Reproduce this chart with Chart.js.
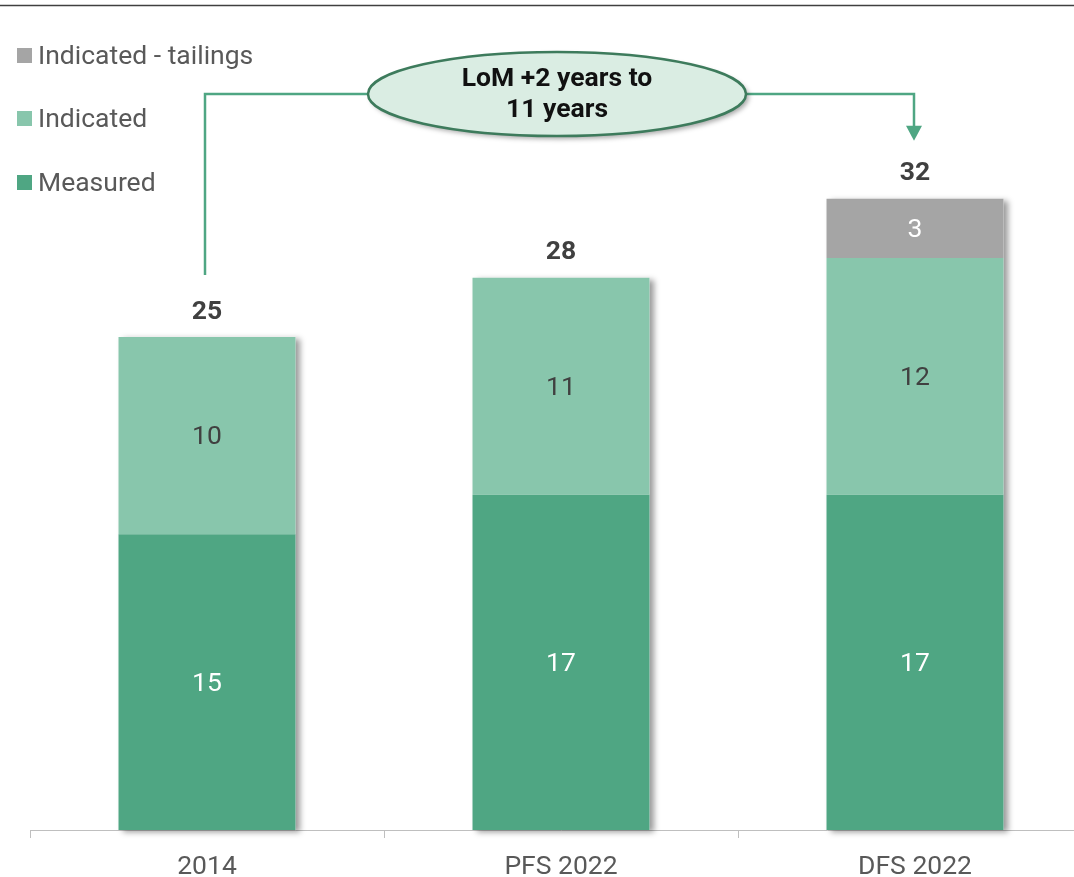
<!DOCTYPE html>
<html>
<head>
<meta charset="utf-8">
<script src="https://cdn.jsdelivr.net/npm/chart.js@4/dist/chart.umd.min.js"></script>
<style>
  html, body { margin: 0; padding: 0; background: #fff; }
  #wrap { width: 1074px; height: 877px; overflow: hidden; }
  #chart { display: block; width: 1110px; height: 900px; }
</style>
</head>
<body>
<div id="wrap"><canvas id="chart" width="1110" height="900"></canvas></div>
<script>
const categories = ['2014', 'PFS 2022', 'DFS 2022'];
const measured = [15, 17, 17];
const indicated = [10, 11, 12];
const tailings = [null, null, 3];
const totals = [25, 28, 32];
const calloutLines = ['LoM +2 years to', '11 years'];

const COLORS = {
    measured: '#4FA683',
    indicated: '#88C6AC',
    tailings: '#A5A5A5',
    text: '#595959',
    dark: '#404040',
    link: '#4FA683'
};
const FONT = 'Roboto, "Liberation Sans", sans-serif';
const SIZE = 26.5;

// labels, callout, legend and the thin rule on top
const decorPlugin = {
    id: 'decor',
    beforeDatasetsDraw(chart) {
        const ctx = chart.ctx;
        const x = chart.scales.x, y = chart.scales.y;
        const meta = chart.getDatasetMeta(0);
        ctx.save();
        ctx.shadowColor = 'rgba(0,0,0,0.4)';
        ctx.shadowBlur = 6;
        ctx.shadowOffsetX = 4;
        ctx.shadowOffsetY = 2;
        ctx.fillStyle = '#fff';
        totals.forEach((t, i) => {
            const w = meta.data[i].width;
            const cx = x.getPixelForValue(i);
            const top = y.getPixelForValue(t);
            const base = y.getPixelForValue(0);
            ctx.fillRect(cx - w / 2, top, w, base - top);
        });
        ctx.restore();
    },
    afterDatasetsDraw(chart) {
        const ctx = chart.ctx;
        const x = chart.scales.x, y = chart.scales.y;
        ctx.save();

        // values inside the segments
        ctx.textAlign = 'center';
        ctx.textBaseline = 'middle';
        ctx.font = SIZE + 'px ' + FONT;
        const labelColors = ['#fff', COLORS.dark, '#fff'];
        chart.data.datasets.forEach((ds, d) => {
            const meta = chart.getDatasetMeta(d);
            ds.data.forEach((v, i) => {
                if (!v) return;
                const el = meta.data[i];
                ctx.fillStyle = labelColors[d];
                ctx.fillText(String(v), el.x, (el.y + el.base) / 2 + 2);
            });
        });

        // totals above each stack
        ctx.font = 'bold ' + SIZE + 'px ' + FONT;
        ctx.fillStyle = COLORS.dark;
        totals.forEach((t, i) => {
            ctx.fillText(String(t), x.getPixelForValue(i), y.getPixelForValue(t) - 25);
        });

        // callout with connectors
        const ex = x.getPixelForValue(1) - 4;
        const ey = 94;
        const rx = 189, ry = 42;
        const x0 = x.getPixelForValue(0) - 2;
        const x2 = x.getPixelForValue(2) - 1;
        const tip = y.getPixelForValue(totals[2]) - 58;

        ctx.strokeStyle = COLORS.link;
        ctx.lineWidth = 2.5;
        ctx.beginPath();
        ctx.moveTo(x0, y.getPixelForValue(totals[0]) - 62);
        ctx.lineTo(x0, ey);
        ctx.lineTo(ex - rx + 5, ey);
        ctx.moveTo(ex + rx - 5, ey);
        ctx.lineTo(x2, ey);
        ctx.lineTo(x2, tip - 14);
        ctx.stroke();
        ctx.fillStyle = COLORS.link;
        ctx.beginPath();
        ctx.moveTo(x2 - 8, tip - 15);
        ctx.lineTo(x2 + 8, tip - 15);
        ctx.lineTo(x2, tip);
        ctx.closePath();
        ctx.fill();

        ctx.save();
        ctx.shadowColor = 'rgba(0,0,0,0.35)';
        ctx.shadowBlur = 5;
        ctx.shadowOffsetX = 3;
        ctx.shadowOffsetY = 3;
        ctx.fillStyle = '#DAEDE3';
        ctx.beginPath();
        ctx.ellipse(ex, ey, rx, ry, 0, 0, Math.PI * 2);
        ctx.fill();
        ctx.restore();
        ctx.strokeStyle = '#3D7B5C';
        ctx.lineWidth = 2.5;
        ctx.beginPath();
        ctx.ellipse(ex, ey, rx, ry, 0, 0, Math.PI * 2);
        ctx.stroke();

        ctx.fillStyle = '#111';
        ctx.font = 'bold ' + SIZE + 'px ' + FONT;
        ctx.fillText(calloutLines[0], ex, ey - 15);
        ctx.fillText(calloutLines[1], ex, ey + 16);

        // legend, top entry is the last dataset
        ctx.textAlign = 'left';
        ctx.font = SIZE + 'px ' + FONT;
        const rows = [55, 118, 182];
        const order = chart.data.datasets.slice().reverse();
        order.forEach((ds, r) => {
            ctx.fillStyle = ds.backgroundColor;
            ctx.fillRect(17, rows[r] - 7, 15, 15);
            ctx.fillStyle = COLORS.text;
            ctx.fillText(ds.label, 38, rows[r] + 2);
        });

        // rule across the top
        ctx.strokeStyle = '#404040';
        ctx.lineWidth = 1.5;
        ctx.beginPath();
        ctx.moveTo(0, 5.5);
        ctx.lineTo(1074, 5.5);
        ctx.stroke();

        ctx.restore();
    }
};

new Chart(document.getElementById('chart'), {
    type: 'bar',
    data: {
        labels: categories,
        datasets: [
            { label: 'Measured', data: measured, backgroundColor: COLORS.measured },
            { label: 'Indicated', data: indicated, backgroundColor: COLORS.indicated },
            { label: 'Indicated - tailings', data: tailings, backgroundColor: COLORS.tailings }
        ]
    },
    options: {
        responsive: false,
        maintainAspectRatio: false,
        animation: false,
        events: [],
        layout: { padding: { top: 41, left: 30, right: 18, bottom: 23 } },
        datasets: { bar: { barPercentage: 0.5, categoryPercentage: 1 } },
        plugins: { legend: { display: false }, tooltip: { enabled: false } },
        scales: {
            x: {
                stacked: true,
                afterFit(scale) { scale.height = 47; },
                grid: { drawOnChartArea: false, drawTicks: true, tickLength: 8, color: '#BFBFBF' },
                border: { color: '#BFBFBF', width: 1 },
                ticks: { color: COLORS.text, font: { family: FONT, size: SIZE }, padding: 13 }
            },
            y: {
                stacked: true,
                display: false,
                min: 0,
                max: 40
            }
        }
    },
    plugins: [decorPlugin]
});
</script>
</body>
</html>
